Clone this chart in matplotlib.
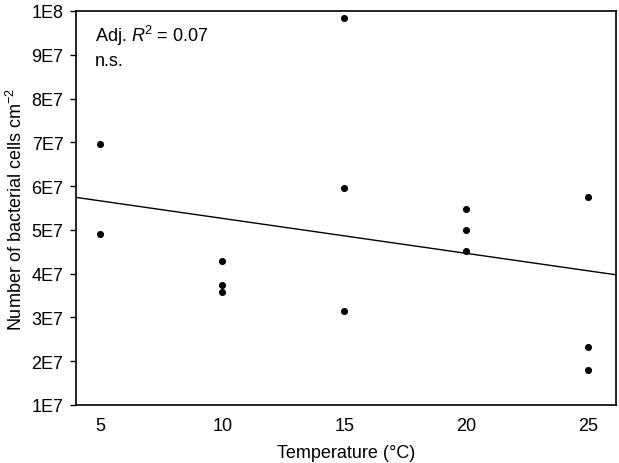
import matplotlib
matplotlib.use("Agg")
import matplotlib.pyplot as plt
import numpy as np

plt.rcParams['font.family'] = ['Liberation Sans', 'DejaVu Sans']
plt.rcParams['mathtext.fontset'] = 'custom'
plt.rcParams['mathtext.it'] = 'Liberation Sans:italic'
plt.rcParams['mathtext.rm'] = 'Liberation Sans'

temperature = [5, 5, 10, 10, 10, 15, 15, 15, 20, 20, 20, 25, 25, 25]
cells = [6.97e7, 4.91e7, 4.30e7, 3.73e7, 3.58e7, 9.84e7, 5.96e7, 3.15e7,
         5.48e7, 5.00e7, 4.52e7, 5.75e7, 2.32e7, 1.79e7]
xticks = [5, 10, 15, 20, 25]
yticks = [1e7, 2e7, 3e7, 4e7, 5e7, 6e7, 7e7, 8e7, 9e7, 1e8]
ytick_labels = ['1E7', '2E7', '3E7', '4E7', '5E7', '6E7', '7E7', '8E7', '9E7', '1E8']

fig = plt.figure(figsize=(6.19, 4.64), dpi=100)
ax = fig.add_axes([76/619, (464-406)/464, 540/619, 394/464])

x = np.array(temperature, dtype=float)
y = np.array(cells)
ax.scatter(x, y, s=26, color='black', zorder=3, linewidths=0)

xlim = (4.0, 26.15)
slope, intercept = np.polyfit(x, y, 1)
xl = np.array(xlim)
ax.plot(xl, slope * xl + intercept, color='black', lw=1.0)

ax.set_xlim(*xlim)
ax.set_ylim(1e7, 1e8)
ax.set_xticks(xticks)
ax.set_xticklabels([str(t) for t in xticks])
ax.set_yticks(yticks)
ax.set_yticklabels(ytick_labels)
ax.tick_params(axis='x', length=0, pad=9, labelsize=13)
ax.tick_params(axis='y', length=4, width=1, pad=5, labelsize=13, direction='out')
for sp in ax.spines.values():
    sp.set_linewidth(1.2)

ax.set_xlabel('Temperature (°C)', fontsize=13, labelpad=7)
ax.set_ylabel('Number of bacterial cells cm$^{-2}$', fontsize=13, labelpad=4)

ax.text(0.035, 0.97, 'Adj. $R$$^2$ = 0.07\nn.s.', transform=ax.transAxes,
        ha='left', va='top', fontsize=13, linespacing=1.4)

fig.savefig('out.png', dpi=100)
